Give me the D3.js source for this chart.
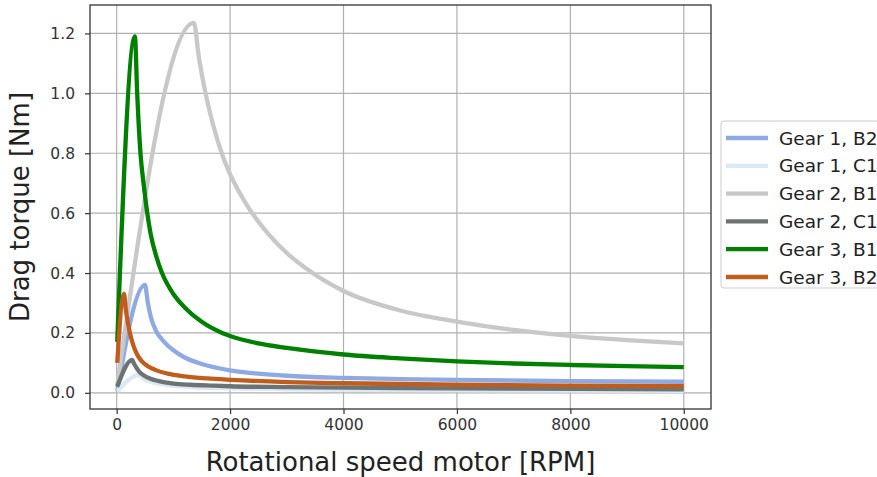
<!DOCTYPE html>
<html>
<head>
<meta charset="utf-8">
<script src="https://cdn.jsdelivr.net/npm/d3@7"></script>
<style>
  html, body { margin: 0; padding: 0; background: #fff; }
  svg { display: block; font-family: "DejaVu Sans", sans-serif; }
</style>
</head>
<body>
<svg id="chart" width="877" height="477"></svg>
<script>
// ---- data ----
const seriesNames = ["Gear 1, B2", "Gear 1, C1", "Gear 2, B1", "Gear 2, C1", "Gear 3, B1", "Gear 3, B2"];
const seriesColors = ["#8eaae3", "#dce8f5", "#c8c8c8", "#6d7373", "#008000", "#c05c1c"];

// [rotational speed RPM, drag torque Nm]
const gear1B2 = [[10,0.005],[500,0.36],[550,0.30],[600,0.255],[700,0.205],[800,0.178],[900,0.158],[1000,0.142],[1200,0.118],[1500,0.096],[2000,0.075],[2500,0.064],[3000,0.057],[4000,0.050],[5000,0.046],[6000,0.043],[8000,0.039],[10000,0.037]];
const gear1C1 = [[10,0.005],[400,0.06],[450,0.05],[550,0.04],[700,0.032],[900,0.026],[1200,0.021],[1600,0.017],[2000,0.015],[3000,0.012],[5000,0.009],[10000,0.007]];
const gear2B1 = [[10,0.025],[1362,1.235],[1450,1.12],[1568,1.0],[1700,0.895],[1862,0.795],[2000,0.73],[2150,0.674],[2330,0.617],[2700,0.525],[3000,0.467],[3417,0.405],[4000,0.34],[5000,0.275],[6000,0.238],[7000,0.21],[8000,0.19],[9000,0.176],[10000,0.165]];
const gear2C1 = [[10,0.02],[275,0.11],[300,0.10],[350,0.083],[400,0.07],[480,0.058],[600,0.047],[700,0.041],[850,0.035],[1000,0.031],[1300,0.027],[1700,0.024],[2000,0.022],[3000,0.019],[5000,0.016],[7000,0.014],[10000,0.012]];
const gear3B1 = [[10,0.17],[322,1.19],[362,1.0],[420,0.8],[480,0.69],[540,0.6],[600,0.53],[700,0.455],[800,0.40],[1000,0.33],[1200,0.285],[1500,0.237],[1860,0.20],[2000,0.19],[2500,0.165],[3000,0.150],[4000,0.128],[5000,0.115],[6000,0.105],[7000,0.098],[8000,0.093],[9000,0.089],[10000,0.086]];
const gear3B2 = [[10,0.10],[130,0.33],[160,0.28],[200,0.232],[250,0.187],[300,0.155],[370,0.125],[450,0.104],[550,0.089],[700,0.075],[900,0.064],[1200,0.055],[1600,0.048],[2000,0.0435],[3000,0.036],[4000,0.032],[6000,0.027],[8000,0.024],[10000,0.022]];
const seriesData = [gear1B2, gear1C1, gear2B1, gear2C1, gear3B1, gear3B2];

const xTicks = [0, 2000, 4000, 6000, 8000, 10000];
const yTicks = [0.0, 0.2, 0.4, 0.6, 0.8, 1.0, 1.2];
const xLabel = "Rotational speed motor [RPM]";
const yLabel = "Drag torque [Nm]";

// ---- layout ----
const L = 90, R = 711, T = 5, B = 409;
const svg = d3.select("#chart");
const x = d3.scaleLinear().domain([-470, 10480]).range([L, R]);
const y = d3.scaleLinear().domain([-0.054, 1.295]).range([B, T]);

// grid
const grid = svg.append("g");
grid.selectAll(".gx").data(xTicks).enter().append("line")
  .attr("x1", d => x(d)).attr("x2", d => x(d)).attr("y1", T).attr("y2", B)
  .attr("stroke", "#b0b0b0").attr("stroke-width", 1.2);
grid.selectAll(".gy").data(yTicks).enter().append("line")
  .attr("y1", d => y(d)).attr("y2", d => y(d)).attr("x1", L).attr("x2", R)
  .attr("stroke", "#b0b0b0").attr("stroke-width", 1.2);

// lines
const line = d3.line().x(d => x(d[0])).y(d => y(d[1])).curve(d3.curveMonotoneX);
svg.append("g").selectAll("path").data(seriesData).enter().append("path")
  .attr("d", line).attr("fill", "none")
  .attr("stroke", (d, i) => seriesColors[i])
  .attr("stroke-width", 4.3).attr("stroke-linejoin", "round").attr("stroke-linecap", "butt");

// axes
const xAxis = d3.axisBottom(x).tickValues(xTicks).tickFormat(d3.format("d")).tickSize(5).tickPadding(5);
const yAxis = d3.axisLeft(y).tickValues(yTicks).tickFormat(d3.format(".1f")).tickSize(5).tickPadding(10);
const gx = svg.append("g").attr("transform", `translate(0,${B})`).call(xAxis);
const gy = svg.append("g").attr("transform", `translate(${L},0)`).call(yAxis);
[gx, gy].forEach(g => {
  g.select(".domain").remove();
  g.selectAll(".tick line").attr("stroke", "#333").attr("stroke-width", 1.2);
  g.selectAll(".tick text").attr("fill", "#333").style("font-size", "15.5px").style("font-family", "DejaVu Sans");
});

// frame
svg.append("rect").attr("x", L).attr("y", T).attr("width", R - L).attr("height", B - T)
  .attr("fill", "none").attr("stroke", "#333").attr("stroke-width", 1.3);

// axis labels
svg.append("text").attr("x", (L + R) / 2).attr("y", 471).attr("text-anchor", "middle")
  .style("font-size", "26px").attr("fill", "#222").text(xLabel);
svg.append("text").attr("transform", `translate(29,${(T + B) / 2}) rotate(-90)`).attr("text-anchor", "middle")
  .style("font-size", "26px").attr("fill", "#222").text(yLabel);

// legend
const lg = svg.append("g");
lg.append("rect").attr("x", 721).attr("y", 121).attr("width", 170).attr("height", 167)
  .attr("rx", 3).attr("fill", "#fff").attr("fill-opacity", 0.8).attr("stroke", "#cccccc").attr("stroke-width", 1);
seriesNames.forEach((name, i) => {
  const cy = 138 + i * 27.8;
  lg.append("line").attr("x1", 726).attr("x2", 768).attr("y1", cy).attr("y2", cy)
    .attr("stroke", seriesColors[i]).attr("stroke-width", 4.3);
  lg.append("text").attr("x", 779).attr("y", cy + 6.5).style("font-size", "18.5px").attr("fill", "#222").text(name);
});
</script>
</body>
</html>
